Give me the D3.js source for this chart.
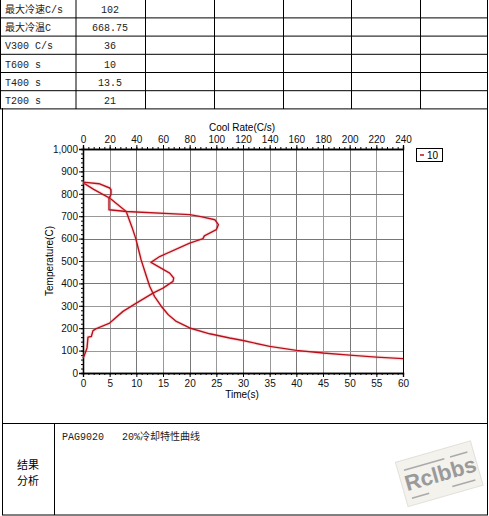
<!DOCTYPE html>
<html>
<head>
<meta charset="utf-8">
<script src="https://cdn.jsdelivr.net/npm/d3@7"></script>
<style>
    body { margin: 0; background: #fff; }
    svg text { font-family: "Liberation Sans", Arial, sans-serif; }
    .cell { font-family: "Liberation Mono", "Noto Sans CJK SC", monospace; font-size: 10px; fill: #222; }
    .cjk { font-family: "Noto Sans CJK SC", sans-serif; }
    .axis text { font-size: 10px; fill: #111; }
</style>
</head>
<body>
<div id="chart"></div>
<script>

// table data
var tableLabels = ["最大冷速C/s", "最大冷温C", "V300 C/s", "T600 s", "T400 s", "T200 s"];
var tableValues = ["102", "668.75", "36", "10", "13.5", "21"];

// time curve : temperature vs time(s)
var timeS    = [0, 2, 5, 8.1, 9.2, 9.9, 10.9, 11.9, 12.5, 13.4, 14.7, 16, 17.5, 20, 23.75, 27.5, 30, 35, 40, 45, 50, 55, 60];
var timeTemp = [850, 820, 781, 721, 650, 600, 505, 431, 387, 342, 297, 260, 230, 201, 175, 156, 145, 119, 101, 89, 80, 71, 64];

// cool rate curve : temperature vs cool rate(C/s)
var coolRate = [0, 12, 20, 21, 21, 19.5, 19.5, 32.5, 80, 87.5, 99, 101.5, 100, 91, 90, 80, 57.5, 51, 65, 68, 67.5, 60, 52.5, 40, 30, 20, 10, 7.5, 6.25, 3.75, 3, 1.25, 0];
var coolTemp = [852, 845, 826, 818, 796, 781, 729, 721, 707, 699, 684, 662, 640, 612, 600, 580, 520, 494, 446, 424, 409, 379, 357, 312, 275, 223, 198, 189, 163, 160, 112, 82, 67];

var legendLabels = ["10"];

var width = 489, height = 516;
var svg = d3.select("#chart").append("svg")
    .attr("width", width)
    .attr("height", height);

// * table on top
var colX = [0.5, 76, 145.5, 214.5, 283.5, 351.5, 420.5, 487.5];
var rowH = 18.2;

var rows = svg.selectAll(".row")
    .data(tableLabels)
    .enter().append("g")
    .attr("class", "row")
    .attr("transform", function(d, i) { return "translate(0," + (i * rowH) + ")"; });

rows.append("line")
    .attr("x1", 0).attr("x2", 488)
    .attr("y1", rowH - 0.3).attr("y2", rowH - 0.3)
    .attr("stroke", "#000");

rows.append("text")
    .attr("class", "cell")
    .attr("x", 5).attr("y", 13)
    .text(function(d) { return d; });

rows.append("text")
    .attr("class", "cell")
    .attr("x", 110).attr("y", 13)
    .attr("text-anchor", "middle")
    .text(function(d, i) { return tableValues[i]; });

svg.selectAll(".colLine")
    .data(colX)
    .enter().append("line")
    .attr("class", "colLine")
    .attr("x1", function(d) { return d; }).attr("x2", function(d) { return d; })
    .attr("y1", 0).attr("y2", 109)
    .attr("stroke", "#000");

// outer frame of chart + result area
svg.append("line").attr("x1", 2.5).attr("x2", 2.5).attr("y1", 108).attr("y2", 515).attr("stroke", "#000");
svg.append("line").attr("x1", 487.5).attr("x2", 487.5).attr("y1", 0).attr("y2", 515).attr("stroke", "#000");
svg.append("line").attr("x1", 2).attr("x2", 488).attr("y1", 423.5).attr("y2", 423.5).attr("stroke", "#000");
svg.append("line").attr("x1", 2).attr("x2", 488).attr("y1", 515).attr("y2", 515).attr("stroke", "#000");
svg.append("line").attr("x1", 54.5).attr("x2", 54.5).attr("y1", 423).attr("y2", 515).attr("stroke", "#000");

svg.append("text").attr("class", "cjk")
    .attr("x", 28).attr("y", 469).attr("text-anchor", "middle")
    .style("font-size", "11px").text("结果");
svg.append("text").attr("class", "cjk")
    .attr("x", 28).attr("y", 485).attr("text-anchor", "middle")
    .style("font-size", "11px").text("分析");
svg.append("text").attr("class", "cell")
    .attr("x", 62).attr("y", 440)
    .style("white-space", "pre")
    .text("PAG9020   20%冷却特性曲线");

// watermark stamp
var stamp = svg.append("g")
    .attr("transform", "translate(438,473) rotate(-16)");
stamp.append("rect")
    .attr("x", -38).attr("y", -22).attr("width", 78).attr("height", 46)
    .attr("fill", "#f4f2ed").attr("stroke", "#e2e0da");
stamp.append("text")
    .attr("x", 2).attr("y", 9).attr("text-anchor", "middle")
    .style("font-size", "22px").style("font-weight", "bold").style("fill", "#9a9a9a")
    .text("Rclbbs");
stamp.append("line").attr("x1", -32).attr("x2", 10).attr("y1", -12).attr("y2", -12).attr("stroke", "#aaa").attr("stroke-width", 1.5);
stamp.append("line").attr("x1", 16).attr("x2", 34).attr("y1", -12).attr("y2", -12).attr("stroke", "#aaa").attr("stroke-width", 1.5);
stamp.append("line").attr("x1", -32).attr("x2", -14).attr("y1", 17).attr("y2", 17).attr("stroke", "#aaa").attr("stroke-width", 1.5);
stamp.append("line").attr("x1", 10).attr("x2", 34).attr("y1", 17).attr("y2", 17).attr("stroke", "#aaa").attr("stroke-width", 1.5);

// * plot area
var plot = { left: 83, top: 149, right: 403, bottom: 373 };

var xTime = d3.scaleLinear().domain([0, 60]).range([plot.left, plot.right]);
var xRate = d3.scaleLinear().domain([0, 240]).range([plot.left, plot.right]);
var yTemp = d3.scaleLinear().domain([0, 1000]).range([plot.bottom, plot.top]);

// grid
svg.append("g").selectAll("line")
    .data(d3.range(0, 61, 5))
    .enter().append("line")
    .attr("x1", function(d) { return Math.round(xTime(d)) + 0.5; })
    .attr("x2", function(d) { return Math.round(xTime(d)) + 0.5; })
    .attr("y1", plot.top).attr("y2", plot.bottom)
    .attr("stroke", function(d) { return d % 10 == 0 ? "#777" : "#999"; });

svg.append("g").selectAll("line")
    .data(d3.range(0, 1001, 100))
    .enter().append("line")
    .attr("x1", plot.left).attr("x2", plot.right)
    .attr("y1", function(d) { return Math.round(yTemp(d)) + 0.5; })
    .attr("y2", function(d) { return Math.round(yTemp(d)) + 0.5; })
    .attr("stroke", function(d) { return d % 200 == 0 ? "#777" : "#999"; });

// axes
var yAxis = d3.axisLeft(yTemp).tickValues(d3.range(0, 1001, 100)).tickSize(4).tickPadding(1)
    .tickFormat(d3.format(",d"));
var yMinor = d3.axisLeft(yTemp).tickValues(d3.range(0, 1001, 20)).tickSize(2).tickFormat("");
var bAxis = d3.axisBottom(xTime).tickValues(d3.range(0, 61, 5)).tickSize(4).tickPadding(3);
var bMinor = d3.axisBottom(xTime).tickValues(d3.range(0, 61, 1)).tickSize(2).tickFormat("");
var tAxis = d3.axisTop(xRate).tickValues(d3.range(0, 241, 20)).tickSize(4).tickPadding(2);
var tMinor = d3.axisTop(xRate).tickValues(d3.range(0, 241, 4)).tickSize(2).tickFormat("");

function drawAxis(ax, tx, ty) {
    var g = svg.append("g").attr("class", "axis")
        .attr("transform", "translate(" + tx + "," + ty + ")")
        .call(ax);
    g.select(".domain").attr("stroke", "#000").attr("stroke-width", 1.3);
    return g;
}
drawAxis(yMinor, plot.left, 0);
drawAxis(yAxis, plot.left, 0);
drawAxis(bMinor, 0, plot.bottom);
drawAxis(bAxis, 0, plot.bottom);
drawAxis(tMinor, 0, plot.top);
drawAxis(tAxis, 0, plot.top);

// right border of plot
svg.append("line")
    .attr("x1", plot.right + 0.5).attr("x2", plot.right + 0.5)
    .attr("y1", plot.top).attr("y2", plot.bottom)
    .attr("stroke", "#000");

// axis titles
svg.append("text").attr("x", 242).attr("y", 131).attr("text-anchor", "middle")
    .style("font-size", "10px").text("Cool Rate(C/s)");
svg.append("text").attr("x", 242).attr("y", 398).attr("text-anchor", "middle")
    .style("font-size", "10px").text("Time(s)");
svg.append("text")
    .attr("transform", "translate(53,261) rotate(-90)")
    .attr("text-anchor", "middle")
    .style("font-size", "10px").text("Temperature(C)");

// curves
var lineTime = d3.line()
    .x(function(d, i) { return xTime(timeS[i]); })
    .y(function(d, i) { return yTemp(timeTemp[i]); });
var lineRate = d3.line()
    .x(function(d, i) { return xRate(coolRate[i]); })
    .y(function(d, i) { return yTemp(coolTemp[i]); });

[[lineTime, timeS], [lineRate, coolRate]].forEach(function(p) {
    svg.append("path")
        .attr("d", p[0](p[1]))
        .attr("fill", "none")
        .attr("stroke", "rgba(240,120,120,0.22)")
        .attr("stroke-width", 3.5);
    svg.append("path")
        .attr("d", p[0](p[1]))
        .attr("fill", "none")
        .attr("stroke", "#b8101c")
        .attr("stroke-width", 1.4)
        .attr("stroke-linejoin", "round");
});

// legend
var legend = svg.append("g").attr("transform", "translate(416,148)");
legend.append("rect")
    .attr("x", 0.5).attr("y", 0.5).attr("width", 26).attr("height", 13)
    .attr("fill", "#fff").attr("stroke", "#000");
legend.append("line")
    .attr("x1", 4).attr("x2", 8).attr("y1", 7).attr("y2", 7)
    .attr("stroke", "#b8101c").attr("stroke-width", 1.5);
legend.append("text")
    .attr("x", 11).attr("y", 11)
    .style("font-size", "10px")
    .text(legendLabels[0]);

</script>
</body>
</html>
